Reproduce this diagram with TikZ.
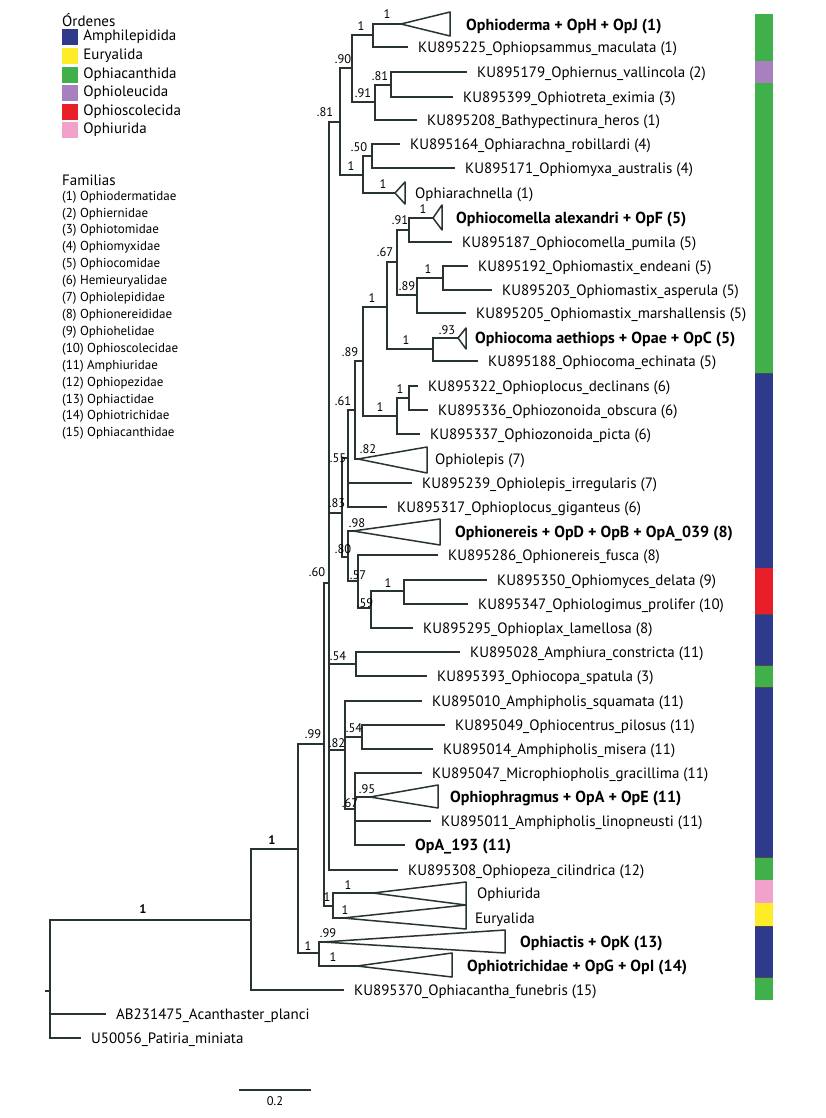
\documentclass[tikz,border=0pt]{standalone}
\usepackage{fontspec}
\setmainfont{PT Sans}
\usepackage{tikz}
\usetikzlibrary{positioning,calc}

\newcommand{\leaffont}{\fontsize{15}{18}\selectfont}
\newcommand{\cladefont}{\fontsize{16}{18}\selectfont\bfseries}
\newcommand{\suppfont}{\fontsize{12.5}{14}\selectfont}
\newcommand{\famfont}{\fontsize{13}{15}\selectfont}

\definecolor{amphi}{RGB}{46,58,140}
\definecolor{eury}{RGB}{255,236,40}
\definecolor{ophiac}{RGB}{64,176,74}
\definecolor{ophiol}{RGB}{168,128,192}
\definecolor{ophios}{RGB}{232,30,40}
\definecolor{ophiu}{RGB}{242,162,202}
\definecolor{treeline}{RGB}{40,52,52}

\tikzset{
  branch/.style={draw=treeline, line width=1.5pt},
  leaf/.style={anchor=west, inner xsep=10pt, inner ysep=0pt, text height=10.5pt, text depth=0pt, font=\leaffont},
  clade/.style={leaf, inner xsep=0pt},
  boldclade/.style={clade, font=\cladefont},
  supp/.style={inner sep=0pt, font=\suppfont},
  legbox/.style={minimum size=16pt, inner sep=0pt},
  legtext/.style={anchor=west, inner sep=0pt, font=\leaffont},
  famtext/.style={anchor=west, inner sep=0pt, font=\famfont}
}

\begin{document}
\begin{tikzpicture}[x=1pt,y=-1pt]
\useasboundingbox (0,0) rectangle (825,1118);
\fill[white] (0,0) rectangle (825,1118);

%Legend: orders
\node[legtext] (ordtitle) at (62,20) {Órdenes};
\node[legbox, fill=amphi] (o1) at (70,37) {};
\node[legbox, fill=eury] (o2) at (70,56) {};
\node[legbox, fill=ophiac] (o3) at (70,75) {};
\node[legbox, fill=ophiol] (o4) at (70,93) {};
\node[legbox, fill=ophios] (o5) at (70,112) {};
\node[legbox, fill=ophiu] (o6) at (70,130) {};
\node[legtext, right=5pt of o1] (ot1) {Amphilepidida};
\node[legtext, right=5pt of o2] (ot2) {Euryalida};
\node[legtext, right=5pt of o3] (ot3) {Ophiacanthida};
\node[legtext, right=5pt of o4] (ot4) {Ophioleucida};
\node[legtext, right=5pt of o5] (ot5) {Ophioscolecida};
\node[legtext, right=5pt of o6] (ot6) {Ophiurida};

%Legend: families
\node[legtext] (famtitle) at (62,180) {Familias};
\foreach \fam [count=\i] in {Ophiodermatidae, Ophiernidae, Ophiotomidae, Ophiomyxidae, Ophiocomidae, Hemieuryalidae, Ophiolepididae, Ophionereididae, Ophiohelidae, Ophioscolecidae, Amphiuridae, Ophiopezidae, Ophiactidae, Ophiotrichidae, Ophiacanthidae}
  \node[famtext] (f\i) at (62,{197+(\i-1)*16.9}) {(\i) \fam};

%Order bar
\fill[ophiac] (755,14) rectangle (773,61);
\fill[ophiol] (755,61) rectangle (773,83);
\fill[ophiac] (755,83) rectangle (773,373);
\fill[amphi] (755,373) rectangle (773,568);
\fill[ophios] (755,568) rectangle (773,614);
\fill[amphi] (755,614) rectangle (773,665);
\fill[ophiac] (755,665) rectangle (773,687);
\fill[amphi] (755,687) rectangle (773,857);
\fill[ophiac] (755,857) rectangle (773,880);
\fill[ophiu] (755,880) rectangle (773,903);
\fill[eury] (755,903) rectangle (773,926);
\fill[amphi] (755,926) rectangle (773,977);
\fill[ophiac] (755,977) rectangle (773,1000);
\draw[black!70, line width=0.8pt] (755,373) -- (773,373) (755,614) -- (773,614) (755,665) -- (773,665) (755,687) -- (773,687) (755,857) -- (773,857) (755,926) -- (773,926) (755,977) -- (773,977);

%Leaves
\node[boldclade] (t1) at (466,25) {Ophioderma + OpH + OpJ (1)};
\node[leaf] (t2) at (408,47) {KU895225\_Ophiopsammus\_maculata (1)};
\node[leaf] (t3) at (467,72) {KU895179\_Ophiernus\_vallincola (2)};
\node[leaf] (t4) at (453,97) {KU895399\_Ophiotreta\_eximia (3)};
\node[leaf] (t5) at (417,120) {KU895208\_Bathypectinura\_heros (1)};
\node[leaf] (t6) at (400,144) {KU895164\_Ophiarachna\_robillardi (4)};
\node[leaf] (t7) at (455,168) {KU895171\_Ophiomyxa\_australis (4)};
\node[clade] (t8) at (415,193) {Ophiarachnella (1)};
\node[boldclade] (t9) at (456,218) {Ophiocomella alexandri + OpF (5)};
\node[leaf] (t10) at (452,242) {KU895187\_Ophiocomella\_pumila (5)};
\node[leaf] (t11) at (468,266) {KU895192\_Ophiomastix\_endeani (5)};
\node[leaf] (t12) at (492,290) {KU895203\_Ophiomastix\_asperula (5)};
\node[leaf] (t13) at (466,313) {KU895205\_Ophiomastix\_marshallensis (5)};
\node[boldclade] (t14) at (475,338) {Ophiocoma aethiops + Opae + OpC (5)};
\node[leaf] (t15) at (478,361) {KU895188\_Ophiocoma\_echinata (5)};
\node[leaf] (t16) at (418,386) {KU895322\_Ophioplocus\_declinans (6)};
\node[leaf] (t17) at (428,410) {KU895336\_Ophiozonoida\_obscura (6)};
\node[leaf] (t18) at (420,434) {KU895337\_Ophiozonoida\_picta (6)};
\node[clade] (t19) at (435,459) {Ophiolepis (7)};
\node[leaf] (t20) at (412,483) {KU895239\_Ophiolepis\_irregularis (7)};
\node[leaf] (t21) at (387,507) {KU895317\_Ophioplocus\_giganteus (6)};
\node[boldclade] (t22) at (455,532) {Ophionereis + OpD + OpB + OpA\_039 (8)};
\node[leaf] (t23) at (438,555) {KU895286\_Ophionereis\_fusca (8)};
\node[leaf] (t24) at (487,580) {KU895350\_Ophiomyces\_delata (9)};
\node[leaf] (t25) at (468,604) {KU895347\_Ophiologimus\_prolifer (10)};
\node[leaf] (t26) at (413,628) {KU895295\_Ophioplax\_lamellosa (8)};
\node[leaf] (t27) at (460,652) {KU895028\_Amphiura\_constricta (11)};
\node[leaf] (t28) at (427,676) {KU895393\_Ophiocopa\_spatula (3)};
\node[leaf] (t29) at (422,701) {KU895010\_Amphipholis\_squamata (11)};
\node[leaf] (t30) at (445,725) {KU895049\_Ophiocentrus\_pilosus (11)};
\node[leaf] (t31) at (433,749) {KU895014\_Amphipholis\_misera (11)};
\node[leaf] (t32) at (422,773) {KU895047\_Microphiopholis\_gracillima (11)};
\node[boldclade] (t33) at (450,797) {Ophiophragmus + OpA + OpE (11)};
\node[leaf] (t34) at (431,821) {KU895011\_Amphipholis\_linopneusti (11)};
\node[leaf, font=\cladefont] (t35) at (405,845) {OpA\_193 (11)};
\node[leaf] (t36) at (398,870) {KU895308\_Ophiopeza\_cilindrica (12)};
\node[clade] (t37) at (477,893) {Ophiurida};
\node[clade] (t38) at (475,918) {Euryalida};
\node[boldclade] (t39) at (520,942) {Ophiactis + OpK (13)};
\node[boldclade] (t40) at (467,966) {Ophiotrichidae + OpG + OpI (14)};
\node[leaf] (t41) at (344,990) {KU895370\_Ophiacantha\_funebris (15)};
\node[leaf] (t42) at (106,1014) {AB231475\_Acanthaster\_planci};
\node[leaf] (t43) at (81,1038) {U50056\_Patiria\_miniata};

%Internal nodes
\coordinate (r0) at (45,991);
\coordinate (r) at (50,991);
\coordinate (n1) at (251,920);
\coordinate (n2) at (298,849);
\coordinate (n3) at (324,744);
\coordinate (n4) at (319,953);
\coordinate (n5) at (329,583);
\coordinate (n6) at (333,906);
\coordinate (n7) at (340,122);
\coordinate (n8) at (342,513);
\coordinate (n9) at (356,664);
\coordinate (n10) at (345,750);
\coordinate (n11) at (352,68);
\coordinate (n12) at (363,175);
\coordinate (n13) at (373,35);
\coordinate (n14) at (375,102);
\coordinate (n15) at (391,85);
\coordinate (n16) at (372,156);
\coordinate (n17) at (348,458);
\coordinate (n18) at (348,557);
\coordinate (n19) at (355,410);
\coordinate (n20) at (363,361);
\coordinate (n21) at (387,307);
\coordinate (n22) at (397,416);
\coordinate (n23) at (397,262);
\coordinate (n24) at (433,349);
\coordinate (n25) at (409,230);
\coordinate (n26) at (417,295);
\coordinate (n27) at (443,278);
\coordinate (n28) at (409,398);
\coordinate (n29) at (358,581);
\coordinate (n30) at (371,608);
\coordinate (n31) at (404,591);
\coordinate (n32) at (362,737);
\coordinate (n33) at (355,809);

%Collapsed clades
\coordinate (a1) at (401,24);
\coordinate (a8) at (395,193);
\coordinate (a9) at (433,218);
\coordinate (a14) at (458,338);
\coordinate (a19) at (358,459);
\coordinate (a22) at (353,531);
\coordinate (a33) at (370,797);
\coordinate (a37) at (373,893);
\coordinate (a38) at (343,918);
\coordinate (a39) at (323,942);
\coordinate (a40) at (357,966);
\draw[branch, line join=round] (a1) -- (450,12) -- (450,36) -- cycle;
\draw[branch, line join=round] (a8) -- (405,182) -- (405,204) -- cycle;
\draw[branch, line join=round] (a9) -- (442,205) -- (442,230) -- cycle;
\draw[branch, line join=round] (a14) -- (466,328) -- (466,349) -- cycle;
\draw[branch, line join=round] (a19) -- (427,447) -- (427,473) -- cycle;
\draw[branch, line join=round] (a22) -- (440,519) -- (440,545) -- cycle;
\draw[branch, line join=round] (a33) -- (438,785) -- (438,808) -- cycle;
\draw[branch, line join=round] (a37) -- (466,882) -- (466,905) -- cycle;
\draw[branch, line join=round] (a38) -- (466,905) -- (466,929) -- cycle;
\draw[branch, line join=round] (a39) -- (505,930) -- (505,953) -- cycle;
\draw[branch, line join=round] (a40) -- (452,953) -- (452,977) -- cycle;

%Branches
\draw[branch] (r0) -- (r);
\draw[branch] (r) |- (n1);
\draw[branch] (r) |- (t42.west);
\draw[branch] (r) |- (t43.west);
\draw[branch] (n1) |- (n2);
\draw[branch] (n1) |- (t41.west);
\draw[branch] (n2) |- (n3);
\draw[branch] (n2) |- (n4);
\draw[branch] (n4) |- (a39);
\draw[branch] (n4) |- (a40);
\draw[branch] (n3) |- (n5);
\draw[branch] (n3) |- (n6);
\draw[branch] (n6) |- (a37);
\draw[branch] (n6) |- (a38);
\draw[branch] (n5) |- (n7);
\draw[branch] (n5) |- (n8);
\draw[branch] (n5) |- (n9);
\draw[branch] (n5) |- (n10);
\draw[branch] (n5) |- (t36.west);
\draw[branch] (n7) |- (n11);
\draw[branch] (n7) |- (n12);
\draw[branch] (n11) |- (n13);
\draw[branch] (n11) |- (n14);
\draw[branch] (n13) |- (a1);
\draw[branch] (n13) |- (t2.west);
\draw[branch] (n14) |- (n15);
\draw[branch] (n14) |- (t5.west);
\draw[branch] (n15) |- (t3.west);
\draw[branch] (n15) |- (t4.west);
\draw[branch] (n12) |- (n16);
\draw[branch] (n12) |- (a8);
\draw[branch] (n16) |- (t6.west);
\draw[branch] (n16) |- (t7.west);
\draw[branch] (n8) |- (n17);
\draw[branch] (n8) |- (n18);
\draw[branch] (n17) |- (n19);
\draw[branch] (n17) |- (t20.west);
\draw[branch] (n17) |- (t21.west);
\draw[branch] (n19) |- (n20);
\draw[branch] (n19) |- (a19);
\draw[branch] (n20) |- (n21);
\draw[branch] (n20) |- (n22);
\draw[branch] (n21) |- (n23);
\draw[branch] (n21) |- (n24);
\draw[branch] (n23) |- (n25);
\draw[branch] (n23) |- (n26);
\draw[branch] (n25) |- (a9);
\draw[branch] (n25) |- (t10.west);
\draw[branch] (n26) |- (n27);
\draw[branch] (n26) |- (t13.west);
\draw[branch] (n27) |- (t11.west);
\draw[branch] (n27) |- (t12.west);
\draw[branch] (n24) |- (a14);
\draw[branch] (n24) |- (t15.west);
\draw[branch] (n22) |- (n28);
\draw[branch] (n22) |- (t18.west);
\draw[branch] (n28) |- (t16.west);
\draw[branch] (n28) |- (t17.west);
\draw[branch] (n18) |- (a22);
\draw[branch] (n18) |- (n29);
\draw[branch] (n29) |- (t23.west);
\draw[branch] (n29) |- (n30);
\draw[branch] (n30) |- (n31);
\draw[branch] (n30) |- (t26.west);
\draw[branch] (n31) |- (t24.west);
\draw[branch] (n31) |- (t25.west);
\draw[branch] (n9) |- (t27.west);
\draw[branch] (n9) |- (t28.west);
\draw[branch] (n10) |- (t29.west);
\draw[branch] (n10) |- (n32);
\draw[branch] (n10) |- (n33);
\draw[branch] (n32) |- (t30.west);
\draw[branch] (n32) |- (t31.west);
\draw[branch] (n33) |- (t32.west);
\draw[branch] (n33) |- (a33);
\draw[branch] (n33) |- (t34.west);
\draw[branch] (n33) |- (t35.west);

%Support values
\node[supp] (s1) at (387,14) {1};
\node[supp] (s2) at (361,26) {1};
\node[supp] (s3) at (343,59) {.90};
\node[supp] (s4) at (380,76) {.81};
\node[supp] (s5) at (363,93) {.91};
\node[supp] (s6) at (325,112) {.81};
\node[supp] (s7) at (359,147) {.50};
\node[supp] (s8) at (351,166) {1};
\node[supp] (s9) at (383,184) {1};
\node[supp] (s10) at (423,209) {1};
\node[supp] (s11) at (400,220) {.91};
\node[supp] (s12) at (385,252) {.67};
\node[supp] (s13) at (428,269) {1};
\node[supp] (s14) at (407,286) {.89};
\node[supp] (s15) at (372,298) {1};
\node[supp] (s16) at (447,330) {.93};
\node[supp] (s17) at (406,340) {1};
\node[supp] (s18) at (350,352) {.89};
\node[supp] (s19) at (400,389) {1};
\node[supp] (s20) at (380,407) {1};
\node[supp] (s21) at (343,401) {.61};
\node[supp] (s22) at (368,449) {.82};
\node[supp] (s23) at (338,458) {.55};
\node[supp] (s24) at (337,503) {.83};
\node[supp] (s25) at (357,523) {.98};
\node[supp] (s26) at (343,549) {.80};
\node[supp] (s27) at (317,572) {.60};
\node[supp] (s28) at (358,575) {.57};
\node[supp] (s29) at (388,583) {1};
\node[supp] (s30) at (365,603) {.59};
\node[supp] (s31) at (338,656) {.54};
\node[supp] (s32) at (354,728) {.54};
\node[supp] (s33) at (313,734) {.99};
\node[supp] (s34) at (337,743) {.82};
\node[supp] (s35) at (367,789) {.95};
\node[supp] (s36) at (350,803) {.67};
\node[supp] (s37) at (348,885) {1};
\node[supp] (s38) at (327,897) {1};
\node[supp] (s39) at (345,910) {1};
\node[supp] (s40) at (328,933) {.99};
\node[supp] (s41) at (308,946) {1};
\node[supp] (s42) at (333,957) {1};
\node[supp, font=\suppfont\bfseries] (s43) at (272,840) {1};
\node[supp, font=\suppfont\bfseries] (s44) at (143,909) {1};

%Scale bar
\coordinate (sb1) at (239,1090);
\coordinate (sb2) at (311,1090);
\draw[branch] (sb1) -- (sb2);
\node[supp, below=6pt of {$(sb1)!0.5!(sb2)$}] (sbl) {0.2};
\end{tikzpicture}
\end{document}
